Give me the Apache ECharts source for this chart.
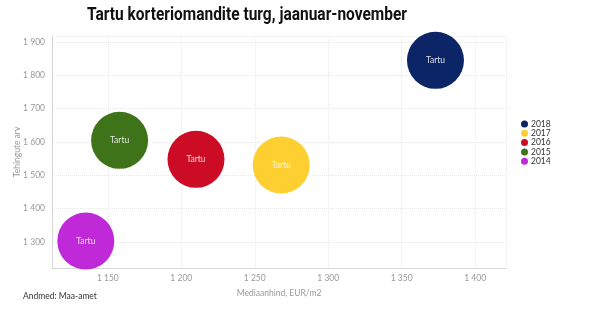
<!DOCTYPE html>
<html>
<head>
<meta charset="utf-8">
<script src="https://cdn.jsdelivr.net/npm/echarts@6/dist/echarts.min.js"></script>
<style>
  html, body { margin: 0; padding: 0; background: #fff; }
  #chart { width: 600px; height: 330px; }
</style>
</head>
<body>
<div id="chart"></div>
<script>
// Tartu apartment market, January–November, by year
const years = ['2018', '2017', '2016', '2015', '2014'];
const medianPrice = [1373, 1268, 1210, 1158, 1135];   // EUR/m2
const dealCount = [1845, 1531, 1548, 1605, 1303];
const pointLabel = 'Tartu';
const colors = ['#0b2566', '#fecf31', '#cc0c25', '#3f7319', '#bf29d8'];

const titleText = 'Tartu korteriomandite turg, jaanuar-november';
const titleFont = 'bold 18px Roboto';
const titleWidth = 320;   // condensed headline width

const fmt = v => String(v).replace(/\B(?=(\d{3})+(?!\d))/g, ' ');

// squeeze the headline horizontally to get a condensed look
const ctx = document.createElement('canvas').getContext('2d');
ctx.font = titleFont;
const titleScale = titleWidth / ctx.measureText(titleText).width;

const small = 'Lato';

const series = years.map((y, i) => ({
  name: y,
  type: 'scatter',
  symbolSize: 57,
  itemStyle: { color: colors[i], opacity: 1 },
  label: {
    show: true,
    position: 'inside',
    formatter: pointLabel,
    color: 'rgba(255,255,255,0.85)',
    fontSize: 8.5,
    fontFamily: small
  },
  emphasis: { disabled: true },
  data: [[medianPrice[i], dealCount[i]]]
}));

const chart = echarts.init(document.getElementById('chart'), null, { renderer: 'canvas' });
chart.setOption({
  animation: false,
  legend: {
    orient: 'vertical',
    left: 521,
    top: 119.5,
    padding: 0,
    icon: 'circle',
    itemWidth: 7,
    itemHeight: 7,
    itemGap: 0.3,
    textStyle: { fontSize: 8.5, lineHeight: 9, height: 9, color: '#333', fontFamily: small, padding: [0, 0, 0, -2] },
    data: years
  },
  grid: { left: 52, right: 94, top: 36, bottom: 62, containLabel: false, outerBoundsMode: 'none' },
  xAxis: {
    type: 'value',
    min: 1112,
    max: 1421,
    name: 'Mediaanhind, EUR/m2',
    nameLocation: 'middle',
    nameGap: 21,
    nameMoveOverlap: false,
    nameTextStyle: { fontSize: 8.5, color: '#999', fontFamily: small },
    axisLine: { show: true, lineStyle: { color: '#d6d6d6' } },
    axisTick: { show: false },
    axisLabel: {
      fontSize: 8.5, color: '#999', fontFamily: small, margin: 6,
      showMinLabel: false, showMaxLabel: false,
      formatter: v => fmt(v)
    },
    splitLine: { show: true, lineStyle: { color: '#e8e8e8', type: [1, 1] } }
  },
  yAxis: {
    type: 'value',
    min: 1222,
    max: 1918,
    name: 'Tehingute arv',
    nameLocation: 'middle',
    nameGap: 30,
    nameMoveOverlap: false,
    nameTextStyle: { fontSize: 8.5, color: '#999', fontFamily: small },
    axisLine: { show: true, lineStyle: { color: '#d6d6d6' } },
    axisTick: { show: false },
    axisLabel: {
      fontSize: 8.5, color: '#999', fontFamily: small, margin: 7,
      showMinLabel: false, showMaxLabel: false,
      formatter: v => fmt(v)
    },
    splitLine: { show: true, lineStyle: { color: '#e8e8e8', type: [1, 1] } }
  },
  graphic: [{
    type: 'text',
    x: 87,
    y: 15,
    scaleX: titleScale,
    style: {
      text: titleText,
      font: titleFont,
      fill: '#111',
      textVerticalAlign: 'middle'
    }
  }, {
    type: 'text',
    left: 23,
    top: 292,
    style: { text: 'Andmed: Maa-amet', fontSize: 8.5, fill: '#333', fontFamily: small }
  }],
  series: series
});
</script>
</body>
</html>
